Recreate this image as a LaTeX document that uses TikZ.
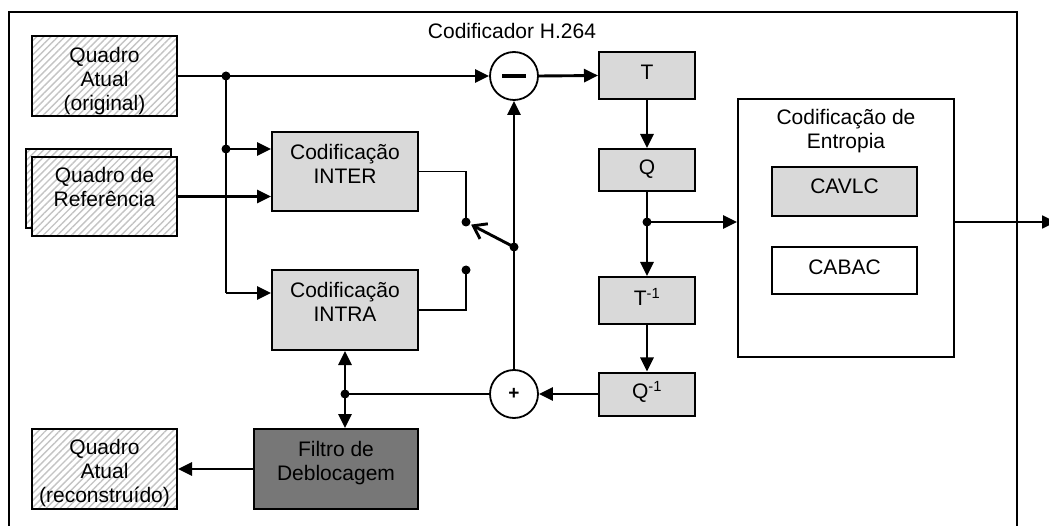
\documentclass[tikz,border=0pt]{standalone}
\usepackage{fontspec}
\setmainfont{Liberation Sans}
\usetikzlibrary{arrows.meta,patterns.meta}
\definecolor{boxgray}{HTML}{D9D9D9}
\definecolor{darkbox}{HTML}{777777}
\definecolor{hatchgray}{HTML}{C4C4C4}
\begin{document}
\begin{tikzpicture}[x=1pt,y=-1pt,font=\fontsize{21}{24}\selectfont,
  box/.style={draw, line width=2pt, fill=boxgray, inner sep=0pt},
  hatchbox/.style={draw, line width=2pt, preaction={fill=white},
    pattern={Lines[angle=45,distance=5pt,line width=1.4pt]}, pattern color=hatchgray, inner sep=0pt},
  txt/.style={align=center, inner sep=0pt},
  conn/.style={line width=2.9pt},
  thinline/.style={line width=1.8pt},
  arr/.style={-{Triangle[length=14pt,width=13pt]}},
  dot/.style={circle, fill, inner sep=0pt, minimum size=9pt},
  sumnode/.style={circle, draw, line width=1.8pt, minimum size=48pt, inner sep=0pt, fill=white}]
\useasboundingbox (0,0) rectangle (1049,526);
% frame
\draw[line width=1.8pt] (9,12) rectangle (1017,560);
\node[txt] (title) at (512,31) {Codificador H.264};

% frames (hatched)
\node[hatchbox, minimum width=145pt, minimum height=80pt] (qa) at (104.5,76) {};
\node[txt] (qatxt) at (104.5,81) {Quadro\\Atual\\(original)};
\node[hatchbox, minimum width=145pt, minimum height=79pt] (refback) at (98.5,188.5) {};
\node[hatchbox, minimum width=145pt, minimum height=79pt] (ref) at (104.5,196.5) {};
\node[txt] (reftxt) at (104.5,187) {Quadro de\\Referência};
\node[hatchbox, minimum width=145pt, minimum height=80pt] (qr) at (104.5,469) {};
\node[txt] (qrtxt) at (104.5,473) {Quadro\\Atual\\(reconstruído)};

% prediction blocks
\node[box, minimum width=146pt, minimum height=79pt] (inter) at (345,171.5) {};
\node[txt] (intertxt) at (345,164) {Codificação\\INTER};
\node[box, minimum width=146pt, minimum height=80pt] (intra) at (345,310) {};
\node[txt] (intratxt) at (345,302) {Codificação\\INTRA};
\node[box, fill=darkbox, minimum width=164pt, minimum height=80pt] (filtro) at (336,469) {};
\node[txt] (filtrotxt) at (336,463) {Filtro de\\Deblocagem};

% sum nodes
\node[sumnode] (minus) at (514,76) {};
\draw[line width=4.5pt] ([xshift=-12pt]minus.center) -- ([xshift=12pt]minus.center);
\node[sumnode, font=\bfseries\fontsize{19}{19}\selectfont] (plus) at (514,394) {+};

% transform chain
\node[box, minimum width=96pt, minimum height=47pt] (T) at (647,75.5) {};
\node[txt] (Ttxt) at (647,72) {T};
\node[box, minimum width=96pt, minimum height=42pt] (Q) at (647,170) {};
\node[txt] (Qtxt) at (647,169) {Q};
\node[box, minimum width=96pt, minimum height=47pt] (Ti) at (647,300.5) {};
\node[txt] (Titxt) at (647,297) {T\textsuperscript{-1}};
\node[box, minimum width=96pt, minimum height=43pt] (Qi) at (647,394) {};
\node[txt] (Qitxt) at (647,392) {Q\textsuperscript{-1}};

% entropy
\node[draw, line width=2pt, fill=white, minimum width=216pt, minimum height=258pt, inner sep=0pt] (ent) at (846,228) {};
\node[txt] (enttxt) at (846,131) {Codificação de\\Entropia};
\node[box, minimum width=145pt, minimum height=49pt] (cavlc) at (844.5,191.5) {};
\node[txt] (cavlctxt) at (844.5,186) {CAVLC};
\node[box, fill=white, minimum width=145pt, minimum height=47pt] (cabac) at (844.5,270.5) {};
\node[txt] (cabactxt) at (844.5,267) {CABAC};

% junctions
\node[dot] (d1) at (226,76) {};
\node[dot] (d2) at (226,149) {};
\coordinate (d3) at (226,293);
\node[dot] (sw1) at (466,222) {};
\node[dot] (sw2) at (466,270) {};
\node[dot] (swp) at (514,247) {};
\node[dot] (d4) at (647,222) {};
\node[dot] (d5) at (345,394) {};
\coordinate (out) at (1056,222);

% connectors
\draw[conn,arr] (qa.east) -- (minus.west);
\draw[conn] (d1.center) -- (d3);
\draw[conn,arr] (d2.center) -- (d2.center -| inter.west);
\draw[conn,arr] (d3) -- (d3 -| intra.west);
\draw[conn,arr] (ref.east) -- (ref.east -| inter.west);
\draw[thinline] (inter.east) -| (sw1.center);
\draw[thinline] (intra.east) -| (sw2.center);
\draw[conn,-{Straight Barb[length=12pt,width=17pt]},shorten >=1pt] (swp.center) -- (sw1);
\draw[conn,arr] (plus.north) -- (minus.south);
\draw[conn,arr] (minus.east) -- (T.west);
\draw[conn,arr] (T.south) -- (Q.north);
\draw[conn] (Q.south) -- (d4.center);
\draw[conn,arr] (d4.center) -- (Ti.north);
\draw[conn,arr] (d4.center) -- (d4.center -| ent.west);
\draw[conn,arr] (Ti.south) -- (Qi.north);
\draw[conn,arr] (Qi.west) -- (plus.east);
\draw[conn] (plus.west) -- (d5.center);
\draw[conn,arr] (d5.center) -- (intra.south);
\draw[conn,arr] (d5.center) -- (d5.center |- filtro.north);
\draw[conn,arr] (filtro.west) -- (qr.east);
\draw[thinline,arr] (d4.center -| ent.east) -- (out);
\end{tikzpicture}
\end{document}
